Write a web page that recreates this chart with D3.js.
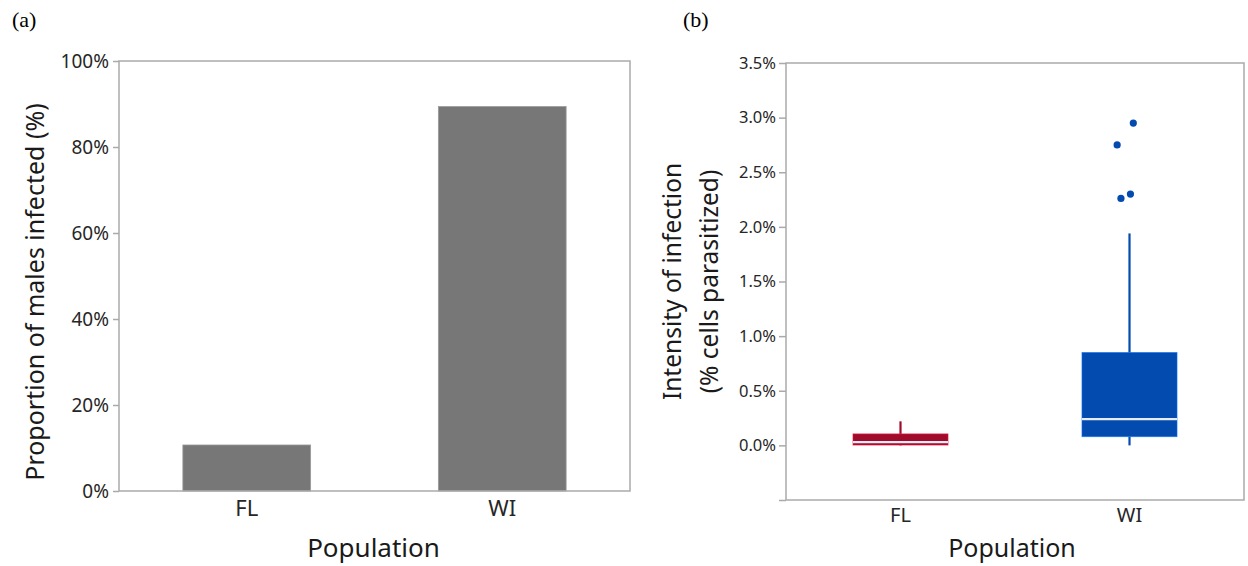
<!DOCTYPE html>
<html>
<head>
<meta charset="utf-8">
<script src="https://cdn.jsdelivr.net/npm/d3@7/dist/d3.min.js"></script>
<style>
  html, body { margin: 0; padding: 0; background: #fff; }
  svg { display: block; }
  .tick text { fill: #262626; }
</style>
</head>
<body>
<svg id="fig" width="1248" height="566"></svg>
<script>
// Populations sampled
const populations = ["FL", "WI"];

// (a) proportion of males infected, percent
const infectedPct = [10.7, 89.4];
const pctTicks = [0, 20, 40, 60, 80, 100];

// (b) intensity of infection (% cells parasitized), box-plot summaries
const whiskerLow  = [0.00, 0.00];
const quartile1   = [0.003, 0.08];
const medians     = [0.03, 0.24];
const quartile3   = [0.105, 0.85];
const whiskerHigh = [0.22, 1.94];
const outlierPop    = ["WI", "WI", "WI", "WI"];
const outlierValue  = [2.95, 2.75, 2.30, 2.26];
const outlierJitter = [0.04, -0.13, 0.01, -0.09];
const intensityTicks = [-0.5, 0, 0.5, 1, 1.5, 2, 2.5, 3, 3.5];

const boxColors = { FL: "#a10b2b", WI: "#034bae" };
const font = "'Noto Sans', 'Open Sans', sans-serif";
const frameColor = "#aaaaaa";

const svg = d3.select("#fig");

// ---------- panel (a): bar chart ----------
const A = { left: 119, right: 630, top: 61, bottom: 491 };
const xA = d3.scaleBand().domain(populations).range([A.left, A.right])
  .paddingInner(0.5).paddingOuter(0.25);
const yA = d3.scaleLinear().domain([0, 100]).range([A.bottom, A.top]);

const gA = svg.append("g");
gA.selectAll("rect.bar").data(populations).join("rect")
  .attr("class", "bar")
  .attr("x", d => xA(d))
  .attr("width", xA.bandwidth())
  .attr("y", (d, i) => yA(infectedPct[i]))
  .attr("height", (d, i) => yA(0) - yA(infectedPct[i]))
  .attr("fill", "#777777")
  .attr("stroke", "#9a9a9a")
  .attr("stroke-width", 0.8);

gA.append("rect")
  .attr("x", A.left).attr("y", A.top)
  .attr("width", A.right - A.left).attr("height", A.bottom - A.top)
  .attr("fill", "none").attr("stroke", frameColor).attr("stroke-width", 1.5);

const axA = gA.append("g").attr("transform", `translate(${A.left},0)`)
  .call(d3.axisLeft(yA).tickValues(pctTicks).tickSize(6).tickPadding(4)
    .tickFormat(d => d + "%"));
axA.select(".domain").remove();
axA.selectAll(".tick line").attr("stroke", frameColor).attr("stroke-width", 1.5);
axA.selectAll(".tick text").attr("font-family", font).attr("font-size", 19);

const axAx = gA.append("g").attr("transform", `translate(0,${A.bottom})`)
  .call(d3.axisBottom(xA).tickSize(0).tickPadding(9));
axAx.select(".domain").remove();
axAx.selectAll(".tick text").attr("font-family", font).attr("font-size", 22);

gA.append("text")
  .attr("transform", `translate(44,${(A.top + A.bottom) / 2 + 16}) rotate(-90)`)
  .attr("text-anchor", "middle").attr("font-family", font).attr("font-size", 25)
  .attr("fill", "#1a1a1a")
  .text("Proportion of males infected (%)");

gA.append("text")
  .attr("x", (A.left + A.right) / 2 - 1).attr("y", 557)
  .attr("text-anchor", "middle").attr("font-family", font).attr("font-size", 26)
  .attr("fill", "#1a1a1a").text("Population");

svg.append("text").attr("x", 12).attr("y", 27)
  .attr("font-family", "'Liberation Serif', 'Times New Roman', serif")
  .attr("font-size", 22).attr("fill", "#000").text("(a)");

// ---------- panel (b): box plots ----------
const B = { left: 786, right: 1244, top: 63, bottom: 500 };
const xB = d3.scaleBand().domain(populations).range([B.left, B.right])
  .paddingInner(0.5).paddingOuter(0.25);
const yB = d3.scaleLinear().domain([-0.5, 3.5]).range([B.bottom, B.top]);
const boxW = xB.bandwidth() * 0.83;

const gB = svg.append("g");
populations.forEach((p, i) => {
  const cx = xB(p) + xB.bandwidth() / 2;
  const col = boxColors[p];
  // whiskers
  gB.append("line")
    .attr("x1", cx).attr("x2", cx)
    .attr("y1", yB(quartile3[i])).attr("y2", yB(whiskerHigh[i]))
    .attr("stroke", col).attr("stroke-width", 2.2);
  gB.append("line")
    .attr("x1", cx).attr("x2", cx)
    .attr("y1", yB(quartile1[i])).attr("y2", yB(whiskerLow[i]))
    .attr("stroke", col).attr("stroke-width", 2.2);
  // interquartile box
  gB.append("rect")
    .attr("x", cx - boxW / 2).attr("width", boxW)
    .attr("y", yB(quartile3[i])).attr("height", yB(quartile1[i]) - yB(quartile3[i]))
    .attr("fill", col)
    .attr("stroke", d3.color(col).brighter(1.0)).attr("stroke-width", 1)
    .attr("stroke-opacity", 0.6);
  // median
  gB.append("line")
    .attr("x1", cx - boxW / 2).attr("x2", cx + boxW / 2)
    .attr("y1", yB(medians[i])).attr("y2", yB(medians[i]))
    .attr("stroke", "#e8ecf6").attr("stroke-width", 2.2);
});

gB.selectAll("circle.outlier").data(outlierValue).join("circle")
  .attr("class", "outlier")
  .attr("cx", (d, i) => xB(outlierPop[i]) + xB.bandwidth() / 2 + outlierJitter[i] * boxW)
  .attr("cy", d => yB(d))
  .attr("r", 3.6)
  .attr("fill", (d, i) => boxColors[outlierPop[i]]);

gB.append("rect")
  .attr("x", B.left).attr("y", B.top)
  .attr("width", B.right - B.left).attr("height", B.bottom - B.top)
  .attr("fill", "none").attr("stroke", frameColor).attr("stroke-width", 1.5);

const axB = gB.append("g").attr("transform", `translate(${B.left},0)`)
  .call(d3.axisLeft(yB).tickValues(intensityTicks).tickSize(7).tickPadding(3)
    .tickFormat(d => d < 0 ? "" : d3.format(".1f")(d) + "%"));
axB.select(".domain").remove();
axB.selectAll(".tick line").attr("stroke", frameColor).attr("stroke-width", 1.5);
axB.selectAll(".tick text").attr("font-family", font).attr("font-size", 16.5);

const axBx = gB.append("g").attr("transform", `translate(0,${B.bottom})`)
  .call(d3.axisBottom(xB).tickSize(0).tickPadding(8));
axBx.select(".domain").remove();
axBx.selectAll(".tick text").attr("font-family", font).attr("font-size", 20);

const yTitleB = gB.append("text")
  .attr("transform", `translate(0,${(B.top + B.bottom) / 2}) rotate(-90)`)
  .attr("text-anchor", "middle").attr("font-family", font).attr("font-size", 24.5)
  .attr("fill", "#1a1a1a");
yTitleB.append("tspan").attr("x", 0).attr("y", 681).text("Intensity of infection");
yTitleB.append("tspan").attr("x", 0).attr("y", 718).text("(% cells parasitized)");

gB.append("text")
  .attr("x", 1012).attr("y", 557)
  .attr("text-anchor", "middle").attr("font-family", font).attr("font-size", 25)
  .attr("fill", "#1a1a1a").text("Population");

svg.append("text").attr("x", 683).attr("y", 27)
  .attr("font-family", "'Liberation Serif', 'Times New Roman', serif")
  .attr("font-size", 22).attr("fill", "#000").text("(b)");
</script>
</body>
</html>
